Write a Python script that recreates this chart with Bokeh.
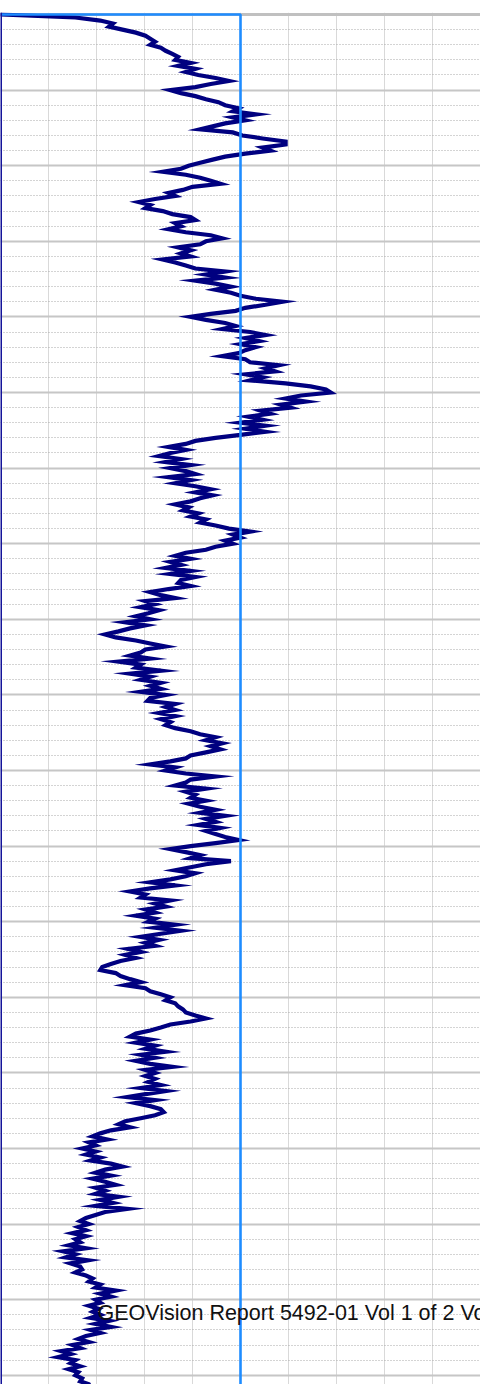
from bokeh.plotting import figure
from bokeh.models import FixedTicker, Range1d, Span
from bokeh.core.properties import value
from bokeh.embed import file_html
from bokeh.resources import INLINE

# depth of each log sample (ft)
depth_ft = [
    0.0, 0.4, 0.8, 1.2, 1.6, 2.0, 2.4, 2.8, 3.2, 3.6,
    4.0, 4.4, 4.8, 5.2, 5.6, 6.0, 6.4, 6.8, 7.2, 7.6,
    8.0, 8.4, 8.8, 9.2, 9.6, 10.0, 10.4, 10.8, 11.2, 11.6,
    12.0, 12.4, 12.8, 13.2, 13.6, 14.0, 14.4, 14.8, 15.2, 15.6,
    16.0, 16.4, 16.8, 17.2, 17.6, 18.0, 18.4, 18.8, 19.2, 19.6,
    20.0, 20.4, 20.8, 21.2, 21.6, 22.0, 22.4, 22.8, 23.2, 23.6,
    24.0, 24.4, 24.8, 25.2, 25.6, 26.0, 26.4, 26.8, 27.2, 27.6,
    28.0, 28.4, 28.8, 29.2, 29.6, 30.0, 30.4, 30.8, 31.2, 31.6,
    32.0, 32.4, 32.8, 33.2, 33.6, 34.0, 34.4, 34.8, 35.2, 35.6,
    36.0, 36.4, 36.8, 37.2, 37.6, 38.0, 38.4, 38.8, 39.2, 39.6,
    40.0, 40.4, 40.8, 41.2, 41.6, 42.0, 42.4, 42.8, 43.2, 43.6,
    44.0, 44.4, 44.8, 45.2, 45.6, 46.0, 46.4, 46.8, 47.2, 47.6,
    48.0, 48.4, 48.8, 49.2, 49.6, 50.0, 50.4, 50.8, 51.2, 51.6,
    52.0, 52.4, 52.8, 53.2, 53.6, 54.0, 54.4, 54.8, 55.2, 55.6,
    56.0, 56.4, 56.8, 57.2, 57.6, 58.0, 58.4, 58.8, 59.2, 59.6,
    60.0, 60.4, 60.8, 61.2, 61.6, 62.0, 62.4, 62.8, 63.2, 63.6,
    64.0, 64.4, 64.8, 65.2, 65.6, 66.0, 66.4, 66.8, 67.2, 67.6,
    68.0, 68.4, 68.8, 69.2, 69.6, 70.0, 70.4, 70.8, 71.2, 71.6,
    72.0, 72.4, 72.8, 73.2, 73.6, 74.0, 74.4, 74.8, 75.2, 75.6,
    76.0, 76.4, 76.8, 77.2, 77.6, 78.0, 78.4, 78.8, 79.2, 79.6,
    80.0, 80.4, 80.8, 81.2, 81.6, 82.0, 82.4, 82.8, 83.2, 83.6,
    84.0, 84.4, 84.8, 85.2, 85.6, 86.0, 86.4, 86.8, 87.2, 87.6,
    88.0, 88.4, 88.8, 89.2, 89.6, 90.0, 90.4, 90.8, 91.2, 91.6,
    92.0, 92.4, 92.8, 93.2, 93.6, 94.0, 94.4, 94.8, 95.2, 95.6,
    96.0, 96.4, 96.8, 97.2, 97.6, 98.0, 98.4, 98.8, 99.2, 99.6,
    100.0, 100.4, 100.8, 101.2, 101.6, 102.0, 102.4, 102.8, 103.2, 103.6,
    104.0, 104.4, 104.8, 105.2, 105.6, 106.0, 106.4, 106.8, 107.2, 107.6,
    108.0, 108.4, 108.8, 109.2, 109.6, 110.0, 110.4, 110.8, 111.2, 111.6,
    112.0, 112.4, 112.8, 113.2, 113.6, 114.0, 114.4, 114.8, 115.2, 115.6,
    116.0, 116.4, 116.8, 117.2, 117.6, 118.0, 118.4, 118.8, 119.2, 119.6,
    120.0, 120.4, 120.8, 121.2, 121.6, 122.0, 122.4, 122.8, 123.2, 123.6,
    124.0, 124.4, 124.8, 125.2, 125.6, 126.0, 126.4, 126.8, 127.2, 127.6,
    128.0, 128.4, 128.8, 129.2, 129.6, 130.0, 130.4, 130.8, 131.2, 131.6,
    132.0, 132.4, 132.8, 133.2, 133.6, 134.0, 134.4, 134.8, 135.2, 135.6,
    136.0, 136.4, 136.8, 137.2, 137.6, 138.0, 138.4, 138.8, 139.2, 139.6,
    140.0, 140.4, 140.8, 141.2, 141.6, 142.0, 142.4, 142.8, 143.2, 143.6,
    144.0, 144.4, 144.8, 145.2, 145.6, 146.0, 146.4, 146.8, 147.2, 147.6,
    148.0, 148.4, 148.8, 149.2, 149.6, 150.0, 150.4, 150.8, 151.2, 151.6,
    152.0, 152.4, 152.8, 153.2, 153.6, 154.0, 154.4, 154.8, 155.2, 155.6,
    156.0, 156.4, 156.8, 157.2, 157.6, 158.0, 158.4, 158.8, 159.2, 159.6,
    160.0, 160.4, 160.8, 161.2, 161.6, 162.0, 162.4, 162.8, 163.2, 163.6,
    164.0, 164.4, 164.8, 165.2, 165.6, 166.0, 166.4, 166.8, 167.2, 167.6,
    168.0, 168.4, 168.8, 169.2, 169.6, 170.0, 170.4, 170.8, 171.2, 171.6,
    172.0, 172.4, 172.8, 173.2, 173.6, 174.0, 174.4, 174.8, 175.2, 175.6,
    176.0, 176.4, 176.8, 177.2, 177.6, 178.0, 178.4, 178.8, 179.2, 179.6,
    180.0, 180.4, 180.8, 181.2, 181.6,
]

# log reading at each depth
log_value = [
    0, 78, 104, 117, 113, 127, 141, 151, 156, 161,
    156, 167, 172, 179, 185, 182, 198, 185, 203, 193,
    206, 224, 238, 219, 203, 177, 188, 203, 214, 227,
    234, 248, 242, 266, 242, 255, 234, 221, 208, 242,
    252, 273, 297, 297, 273, 281, 255, 234, 221, 208,
    196, 188, 169, 193, 208, 219, 229, 200, 190,
    175, 182, 161, 144, 156, 151, 169, 179, 198, 203,
    182, 188, 175, 193, 219, 231, 214, 208, 185, 198,
    188, 198, 169, 182, 193, 203, 234, 214, 234, 203,
    224, 240, 224, 240, 250, 266, 294, 276, 255, 245,
    219, 198, 214, 234, 245, 231, 260, 276, 255, 269,
    250, 266, 255, 248, 231, 255, 260, 290, 276, 286,
    255, 273, 260, 297, 323, 339, 344, 313, 297, 318,
    292, 302, 271, 281, 258, 273, 250, 276, 255, 276,
    250, 224, 203, 193, 175, 193, 177, 165, 188, 172,
    198, 177, 193, 203, 175, 198, 182, 203, 219, 203,
    221, 208, 198, 182, 196, 190, 206, 198, 214, 208,
    224, 238, 260, 242, 250, 234, 242, 224, 214,
    193, 182, 198, 177, 188, 172, 198, 177, 203, 188,
    185, 198, 175, 156, 167, 182, 151, 161, 146, 165,
    154, 141, 156, 130, 151, 135, 123, 109, 120, 141,
    156, 172, 151, 146, 135, 156, 123, 146, 141, 167,
    135, 156, 146, 167, 156, 167, 146, 172, 156, 153,
    182, 172, 182, 165, 182, 167, 177, 172, 182, 198,
    208, 224, 214, 231, 219, 229, 214, 198, 193, 177,
    156, 182, 172, 193, 224, 198, 193, 182, 214, 193,
    203, 198, 214, 196, 208, 224, 208, 234, 214, 224,
    206, 229, 214, 224, 234, 248, 224, 198, 177, 193,
    208, 198, 240, 214, 198, 182, 203, 193, 177, 156,
    182, 156, 135, 151, 146, 177, 161, 172, 151,
    161, 141, 161, 154, 182, 161, 188, 167, 146, 165,
    151, 161, 133, 146, 130, 141, 125, 115, 106, 104,
    120, 125, 135, 146, 130, 151, 156, 167, 177, 172,
    182, 185, 190, 193, 203, 214, 198, 177, 167, 156,
    141, 135, 156, 141, 161, 151, 172, 146, 161, 141,
    156, 179, 151, 161, 151, 161, 154, 167, 146, 172,
    151, 132, 161, 141, 156, 167, 170, 161, 146, 130,
    123, 135, 115, 104, 96, 111, 92, 99, 85, 99,
    89, 104, 94, 115, 127, 109, 99, 115, 96, 109,
    120, 99, 109, 99, 123, 104, 117, 99, 132, 109,
    99, 89, 83, 92, 81, 89, 75, 89, 78, 83,
    71, 89, 65, 78, 68, 91, 73, 83, 85,
    78, 89, 96, 92, 104, 99, 120, 104, 115, 99,
    104, 92, 102, 96, 104, 94, 113, 99, 115, 94,
    104, 89, 81, 92, 75, 83, 63, 73, 60, 78,
    73, 83, 71, 81, 78, 85, 83, 92, 94,
]

# cut-off marker drawn as a polyline
cutoff_value = [0, 250, 250]
cutoff_depth = [0.0, 0.0, 190.0]

footer_text = ["GEOVision Report 5492-01 Vol 1 of 2 Volume 1"]
footer_x = [101]
footer_depth = [171.7]

p = figure(
    width=480, height=1384,
    x_range=Range1d(0, 500), y_range=Range1d(181.22, -0.2646),
    output_backend="svg", toolbar_location=None,
    min_border_left=0, min_border_right=0, min_border_top=12, min_border_bottom=0,
)
p.xaxis.visible = False
p.yaxis.visible = False
p.outline_line_color = None
p.background_fill_color = "white"
p.border_fill_color = "white"

p.xgrid.ticker = FixedTicker(ticks=list(range(0, 550, 50)))
p.xgrid.grid_line_color = "#d9d9d9"
p.xgrid.grid_line_width = 1

p.ygrid.ticker = FixedTicker(ticks=list(range(0, 200, 10)),
                             minor_ticks=[t for t in range(0, 200, 2) if t % 10])
p.ygrid.grid_line_color = "#c6c6c6"
p.ygrid.grid_line_width = 2
p.ygrid.minor_grid_line_color = "#a8a8a8"
p.ygrid.minor_grid_line_dash = "1 2"
p.ygrid.minor_grid_line_width = 1

top_rule = Span(location=0, dimension="width", line_color="#c0c0c0", line_width=3, level="underlay")
p.add_layout(top_rule)

p.line(log_value, depth_ft, line_color="#000080", line_width=4.2, line_join="miter")
p.line(cutoff_value, cutoff_depth, line_color="#1e8cff", line_width=2.6)

left_rule = Span(location=0, dimension="height", line_color="#14149a", line_width=3)
p.add_layout(left_rule)

p.text(x=footer_x, y=footer_depth, text=footer_text,
       text_font=value("Liberation Sans"), text_font_size=value("21.5px"),
       text_color="#111111", text_baseline="alphabetic", text_align="left")

html = file_html(p, INLINE)
html = html.replace("</head>", "<style>html,body{margin:0;padding:0;overflow:hidden;}</style></head>", 1)
open("out.html", "w").write(html)
